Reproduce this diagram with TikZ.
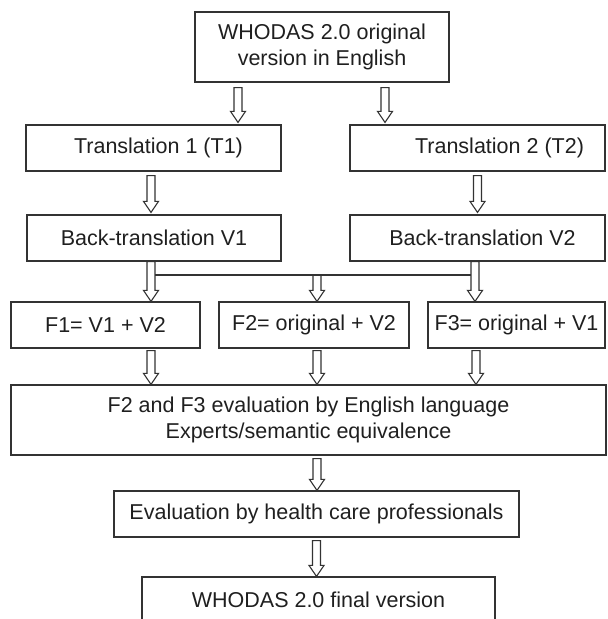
\documentclass[tikz,border=0pt]{standalone}
\usepackage{fontspec}
\setmainfont{Liberation Sans}
\usepackage{tikz}
\usetikzlibrary{calc}

\definecolor{linegray}{gray}{0.2}
\definecolor{textgray}{gray}{0.12}

\tikzset{
  box/.style={draw=linegray, line width=0.6pt, inner sep=2pt, text=textgray,
    minimum height=23pt, align=center, font=\fontsize{10.75pt}{13pt}\selectfont},
  flowline/.style={draw=linegray, line width=0.55pt, line join=miter}
}

% hollow block arrow going straight down from #1 to the y of #2
\newcommand{\flowarrow}[2]{%
  \draw[flowline] let \p1=(#1), \p2=(#2) in
    (\x1-2pt,\y1) -- (\x1-2pt,\y2+5.5pt) -- (\x1-3.75pt,\y2+5.5pt) -- (\x1,\y2)
    -- (\x1+3.75pt,\y2+5.5pt) -- (\x1+2pt,\y2+5.5pt) -- (\x1+2pt,\y1) -- cycle;}

\begin{document}
\begin{tikzpicture}[x=0.5pt, y=-0.5pt]
    \useasboundingbox (0,0) rectangle (608,619);
    \clip (0,0) rectangle (608,619);

    \node (top) [box, minimum width=127pt, minimum height=35pt] at (322,47) {WHODAS 2.0 original\\version in English};
    \node (t1) [box, minimum width=127.5pt] at (153.5,148) {\hspace*{5pt}Translation 1 (T1)};
    \node (t2) [box, minimum width=127.5pt] at (477.5,148) {\hspace*{22pt}Translation 2 (T2)};
    \node (bt1) [box, minimum width=127pt] at (154,238) {Back-translation V1};
    \node (bt2) [box, minimum width=127.5pt] at (477.5,238) {\hspace*{5pt}Back-translation V2};
    \node (f1) [box, minimum width=94.5pt] at (105.5,325) {F1= V1 + V2};
    \node (f2) [box, minimum width=95pt] at (314,325) {F2= original + V2};
    \node (f3) [box, minimum width=88.5pt] at (516.5,325) {F3= original + V1};
    \node (eval) [box, minimum width=297.5pt, minimum height=35pt] at (308.5,420) {F2 and F3 evaluation by English language\\Experts/semantic equivalence};
    \node (prof) [box, minimum width=202.5pt] at (316.5,514) {Evaluation by health care professionals};
    \node (final) [box, minimum width=176.5pt] at (318.5,600) {WHODAS 2.0 final version};

    \coordinate (joinl) at (155,275);
    \coordinate (join) at (317,275);
    \coordinate (joinr) at (471,275);

    \flowarrow{[xshift=-42pt,yshift=-2.5pt]top.south}{[yshift=1pt]t1.north}
    \flowarrow{[xshift=31.5pt,yshift=-2.5pt]top.south}{[yshift=1pt]t2.north}
    \flowarrow{[xshift=-1.25pt,yshift=-2pt]t1.south}{[yshift=1pt]bt1.north}
    \flowarrow{[yshift=-2pt]t2.south}{[yshift=1pt]bt2.north}
    \flowarrow{[xshift=-1.5pt]bt1.south}{f1.north}
    \flowarrow{[xshift=-1.25pt]bt2.south}{f3.north}
    \flowarrow{join}{f2.north}
    \draw[flowline] (joinl) -- (joinr);
    \flowarrow{[xshift=22.75pt,yshift=-1pt]f1.south}{eval.north}
    \flowarrow{[xshift=1.5pt,yshift=-1pt]f2.south}{eval.north}
    \flowarrow{[xshift=-20.25pt,yshift=-1pt]f3.south}{eval.north}
    \flowarrow{[xshift=4.25pt,yshift=-1.5pt]eval.south}{prof.north}
    \flowarrow{[yshift=-1.5pt]prof.south}{final.north}
\end{tikzpicture}
\end{document}
